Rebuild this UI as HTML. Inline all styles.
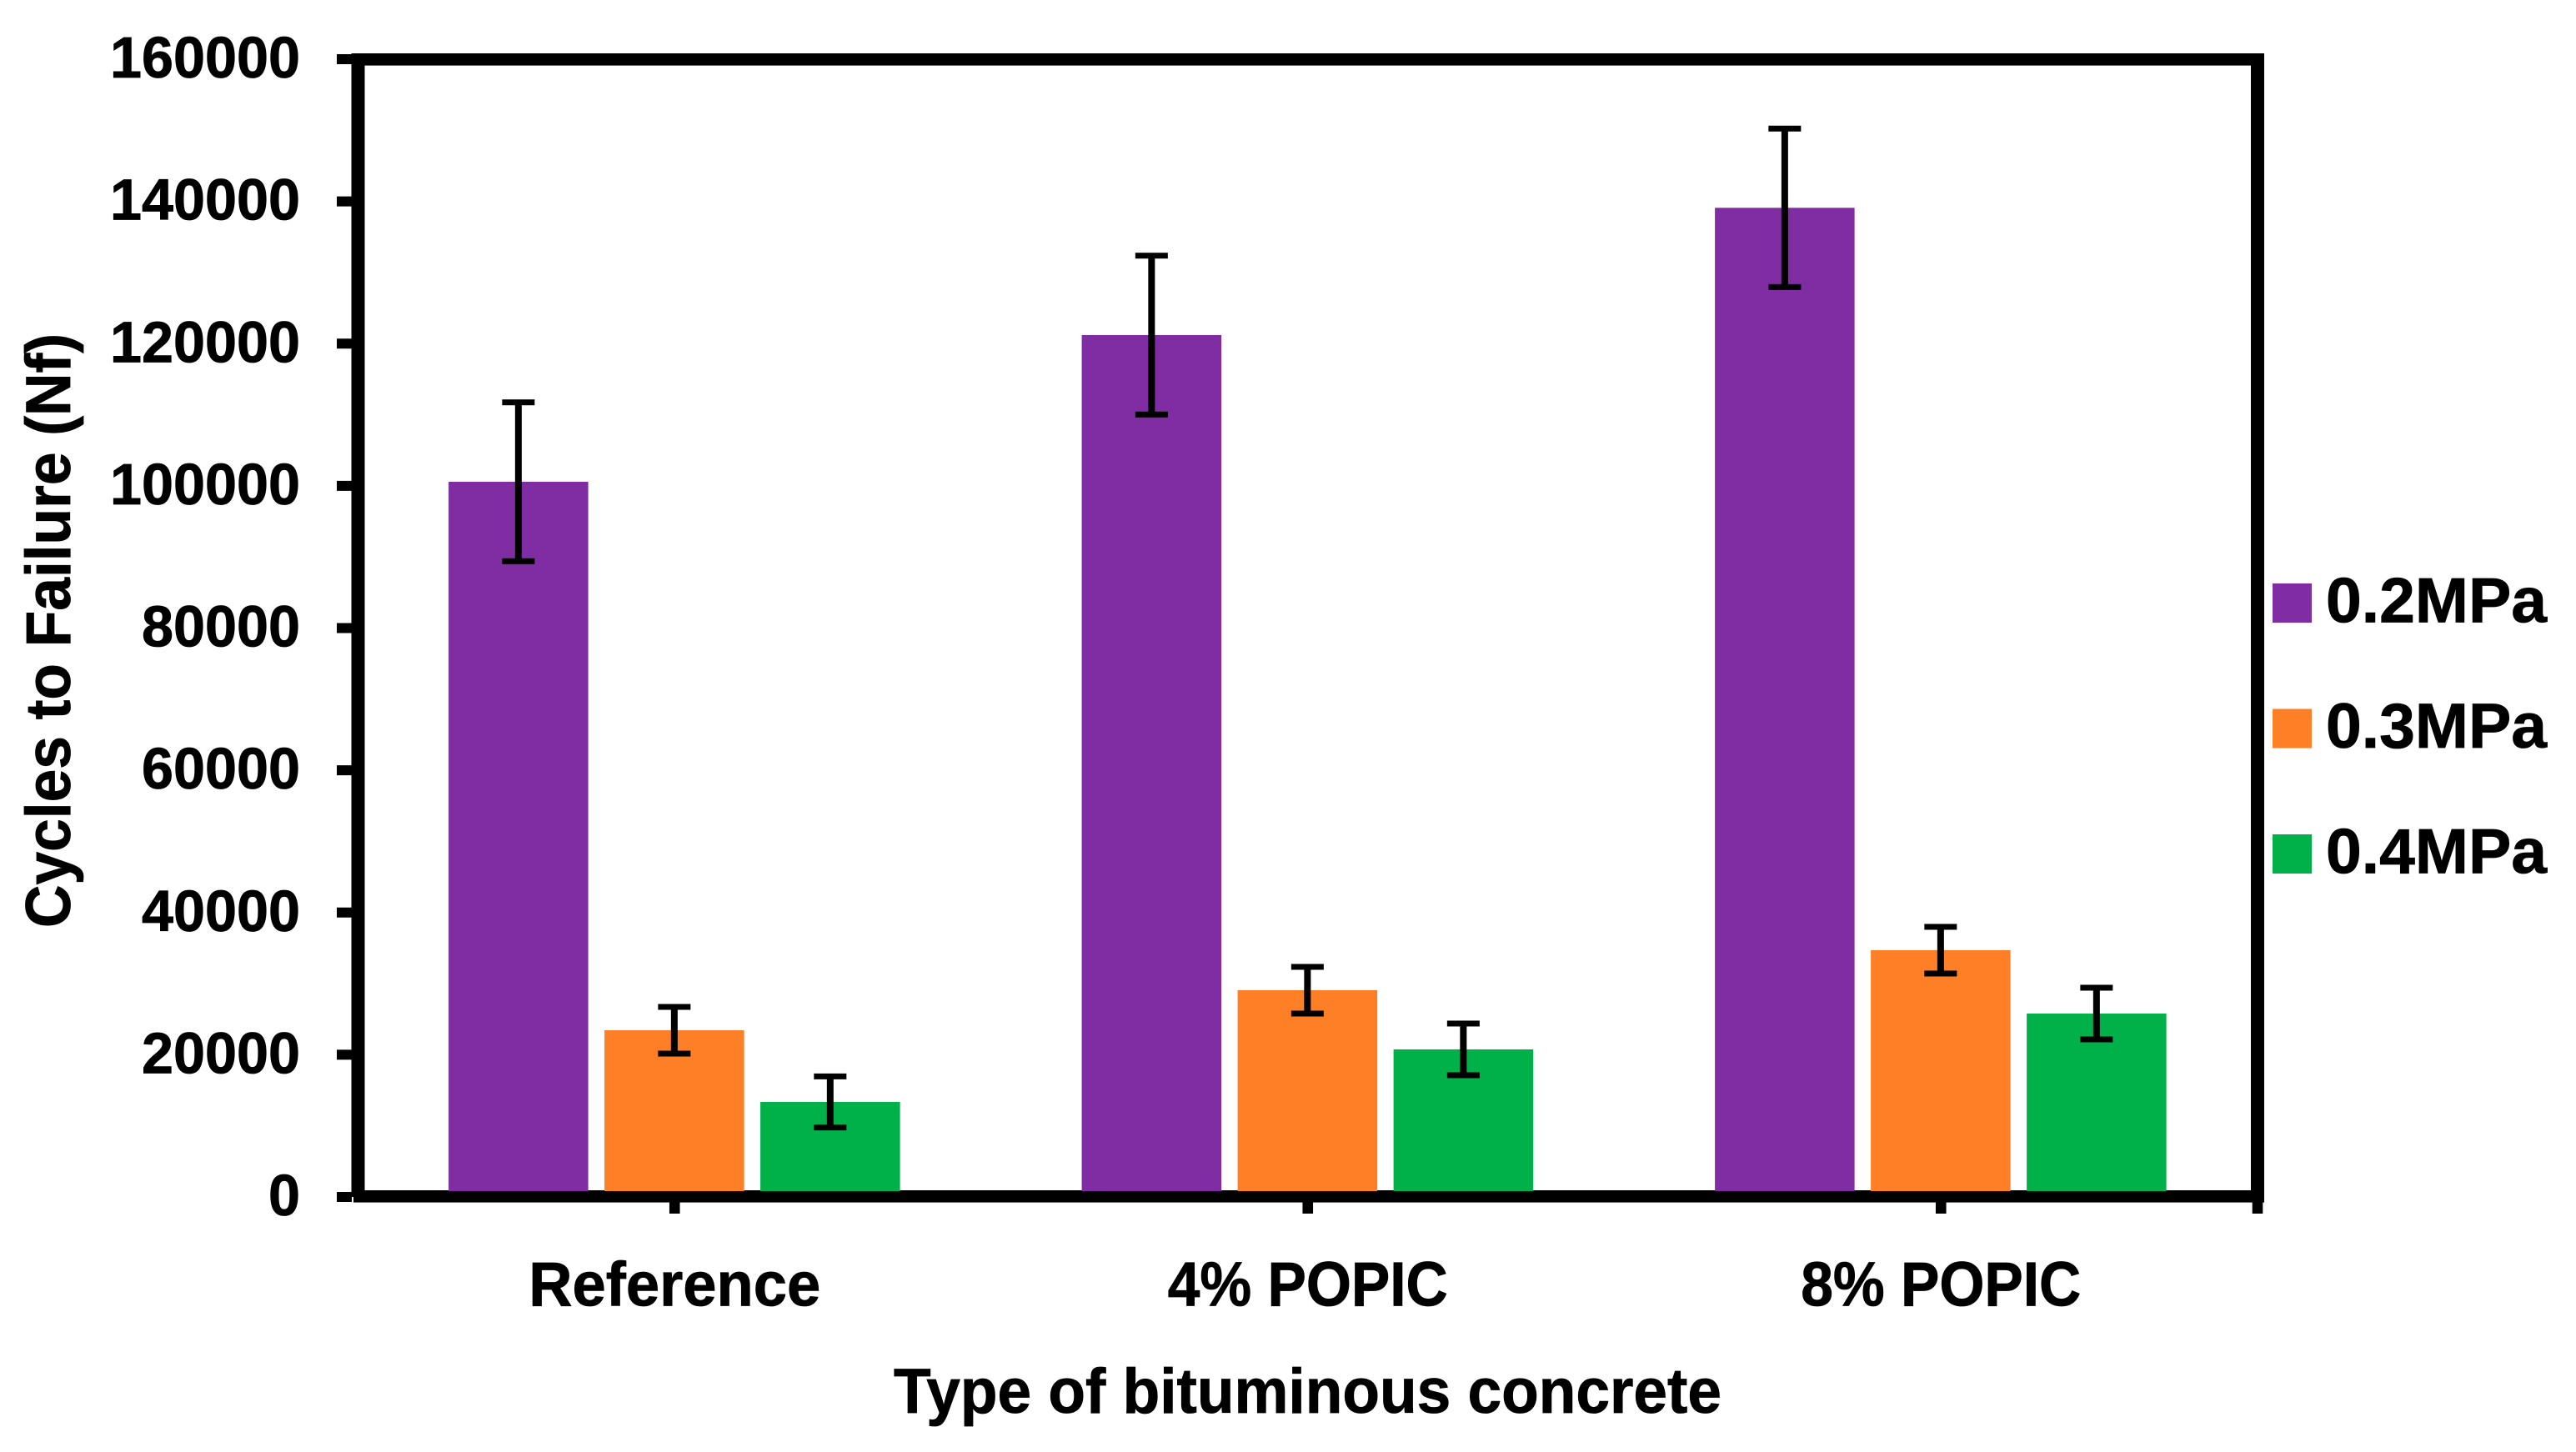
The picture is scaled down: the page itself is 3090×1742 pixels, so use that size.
<!DOCTYPE html>
<html lang="en">
<head>
<meta charset="utf-8">
<title>Cycles to Failure by Type of Bituminous Concrete</title>
<style>
html,body{margin:0;padding:0;background:#fff;width:3090px;height:1742px;overflow:hidden}
svg{display:block}
text{font-family:"Liberation Sans",sans-serif;font-weight:700;fill:#000;stroke:#000;stroke-width:0.8px}
</style>
</head>
<body>
<svg id="chart" xmlns="http://www.w3.org/2000/svg" width="3090" height="1742" viewBox="0 0 3090 1742">
  <rect x="0" y="0" width="3090" height="1742" fill="#fff"/>
  <g id="axes">
    <rect x="421.5" y="64" width="2294.5" height="14.6" fill="#000"/>
    <rect x="424" y="1428" width="2292" height="14.6" fill="#000"/>
    <rect x="421.5" y="64" width="16" height="1372" fill="#000"/>
    <rect x="2700" y="64" width="16" height="1378.6" fill="#000"/>
  </g>
  <g id="bars"></g>
  <g id="errors"></g>
  <g id="yticks"></g>
  <g id="xticks"></g>
  <text transform="translate(84,1113) rotate(-90)" font-size="76" textLength="713" lengthAdjust="spacingAndGlyphs">Cycles to Failure (Nf)</text>
  <text x="1072" y="1695" font-size="76" textLength="993" lengthAdjust="spacingAndGlyphs">Type of bituminous concrete</text>
  <g id="legend"></g>
</svg>
<script>
const categories = ["Reference", "4% POPIC", "8% POPIC"];
const seriesNames = ["0.2MPa", "0.3MPa", "0.4MPa"];
const values02 = [100570, 121200, 139100];
const values03 = [23440, 29070, 34700];
const values04 = [13360, 20750, 25790];
const errors02 = [11170, 11170, 11140];
const errors03 = [3283, 3283, 3283];
const errors04 = [3590, 3634, 3634];
const yTicks = [0, 20000, 40000, 60000, 80000, 100000, 120000, 140000, 160000];
const seriesColors = ["#802ca2", "#ff7f27", "#00b14a"];

const NS = "http://www.w3.org/2000/svg";
const yMax = 160000;
const y0 = 1436, yTop = 71;
const xLeft = 429.5, xRight = 2708;
const barW = 167.5, barPitch = 187;
const barBottom = 1429;

function y(v) { return y0 - (v / yMax) * (y0 - yTop); }
function xCenter(i) { return xLeft + (xRight - xLeft) * (i + 0.5) / categories.length; }
function xBar(i, s) { return xCenter(i) - 0.4 + (s - 1) * barPitch; }
function make(tag, attrs, parent) {
  const el = document.createElementNS(NS, tag);
  for (const k in attrs) el.setAttribute(k, attrs[k]);
  parent.appendChild(el);
  return el;
}

const seriesValues = [values02, values03, values04];
const seriesErrors = [errors02, errors03, errors04];
const barsG = document.getElementById("bars");
const errG = document.getElementById("errors");
seriesValues.forEach(function (vals, s) {
  vals.forEach(function (v, i) {
    const cx = xBar(i, s);
    const bar = make("rect", { x: cx - barW / 2, y: y(v), width: barW, height: barBottom - y(v), fill: seriesColors[s] }, barsG);
    
    
    const e = seriesErrors[s][i];
    const hi = y(v + e), lo = y(v - e);
    const stem = make("rect", { x: cx - 4, y: hi, width: 8, height: lo - hi, fill: "#000" }, errG);
    
    
    const capTop = make("rect", { x: cx - 19.5, y: hi - 3.5, width: 39, height: 7, fill: "#000" }, errG);
    
    
    const capBottom = make("rect", { x: cx - 19.5, y: lo - 3.5, width: 39, height: 7, fill: "#000" }, errG);
    
    
  });
});

const yG = document.getElementById("yticks");
yTicks.forEach(function (t) {
  const mark = make("rect", { x: 404, y: y(t) - 6, width: 18, height: 12, fill: "#000" }, yG);
  
  
  const s = String(t);
  const w = 38 * s.length;
  const label = make("text", { x: 360 - w, y: y(t) + 22, "font-size": 70, textLength: w, lengthAdjust: "spacingAndGlyphs" }, yG);
  label.textContent = s;
  
  
});

const xG = document.getElementById("xticks");
const endTick = make("rect", { x: xRight - 6.3, y: 1440, width: 12.6, height: 16, fill: "#000" }, xG);


categories.forEach(function (c, i) {
  const cx = xCenter(i);
  const mark = make("rect", { x: cx - 6.3, y: 1440, width: 12.6, height: 16, fill: "#000" }, xG);
  
  
  const w = c === "Reference" ? 350 : 336;
  const label = make("text", { x: cx - w / 2, y: 1566.5, "font-size": 75, textLength: w, lengthAdjust: "spacingAndGlyphs" }, xG);
  label.textContent = c;
  
  
});

const legG = document.getElementById("legend");
seriesNames.forEach(function (n, s) {
  const top = 700 + s * 150.5;
  const swatch = make("rect", { x: 2726, y: top, width: 47, height: 47, fill: seriesColors[s] }, legG);
  
  
  const label = make("text", { x: 2790, y: top + 46.5, "font-size": 76, textLength: 265, lengthAdjust: "spacingAndGlyphs" }, legG);
  label.textContent = n;
  
  
});
</script>
</body>
</html>
